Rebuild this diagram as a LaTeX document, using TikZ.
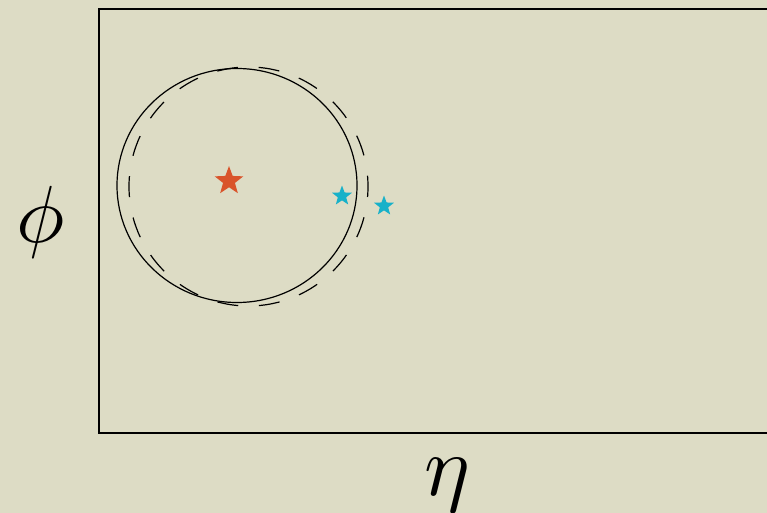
\documentclass[tikz,border=0pt]{standalone}
\usetikzlibrary{shapes.geometric}
\definecolor{bg}{HTML}{DDDCC5}
\definecolor{starred}{HTML}{D9542B}
\definecolor{starcyan}{HTML}{17B1C9}
\begin{document}
\begin{tikzpicture}[x=1pt,y=-1pt,
  starshape/.style={star,star points=5,star point ratio=2.4,inner sep=0pt,draw=none},
  bigstar/.style={starshape,fill=starred,minimum size=30pt},
  smallstar/.style={starshape,fill=starcyan,minimum size=21pt},
  axislabel/.style={inner sep=0pt}]
\fill[bg] (0,0) rectangle (767,513);
\useasboundingbox (0,0) rectangle (767,513);
\draw[line width=1.1pt] (775,9) -- (99,9) -- (99,433) -- (775,433);
\draw[line width=1.2pt] (237,185.5) ellipse [x radius=120, y radius=117];
\draw[line width=1.2pt, dash pattern=on 21pt off 20.7pt, dash phase=10.5pt] (248.5,186.5) circle [radius=119.5];
\node[bigstar] (sr) at (229,181) {};
\node[smallstar] (c1) at (342,196) {};
\node[smallstar] (c2) at (384,206) {};
\node[axislabel, scale=8.1] (phi) at (41,222) {$\phi$};
\node[axislabel, scale=8.6] (eta) at (447,485) {$\eta$};
\end{tikzpicture}
\end{document}
